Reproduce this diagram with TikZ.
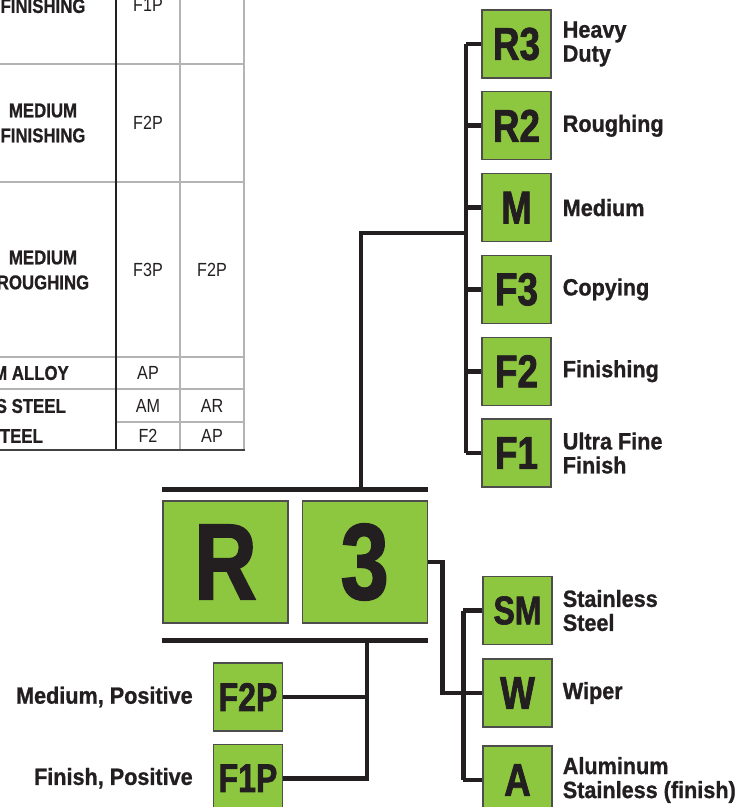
\documentclass[tikz,border=0pt]{standalone}
\usepackage{fontspec}
\setmainfont{Liberation Sans}
\newfontfamily\boxfont[FakeStretch=0.8, FakeBold=1.6]{Liberation Sans}
\newfontfamily\labfont[FakeStretch=0.92, FakeBold=1.0]{Liberation Sans}
\newfontfamily\cellfont[FakeStretch=0.85]{Liberation Sans}
\newfontfamily\headfont[FakeStretch=0.84, FakeBold=0.8]{Liberation Sans}
\usetikzlibrary{positioning}
\definecolor{codegreen}{HTML}{8DC63F}
\definecolor{ink}{HTML}{231F20}
\definecolor{rule}{HTML}{B4B4B4}

\begin{document}
\begin{tikzpicture}[x=1pt, y=-1pt,
    codebox/.style={draw=ink!80, line width=1.2pt, fill=codegreen, text=ink,
        minimum width=69pt, minimum height=68pt, inner sep=0pt,
        font=\boxfont\bfseries\fontsize{46}{46}\selectfont},
    smallcode/.style={font=\boxfont\bfseries\fontsize{40}{40}\selectfont},
    bigbox/.style={codebox, minimum width=125pt, minimum height=122pt,
        font=\boxfont\bfseries\fontsize{108}{108}\selectfont},
    tag/.style={text=ink, inner sep=0pt, align=left,
        font=\labfont\bfseries\fontsize{23.5}{24}\selectfont},
    wire/.style={ink, line width=4.8pt},
    bar/.style={ink, line width=5.5pt},
    cell/.style={text=ink, inner sep=0pt, font=\cellfont\fontsize{19}{22}\selectfont},
    head/.style={text=ink, inner sep=0pt, align=center,
        font=\headfont\bfseries\fontsize{20}{25}\selectfont},
    node distance=12.6pt]
    \useasboundingbox (0,0) rectangle (754,807);
    \clip (0,0) rectangle (754,807);
    % table (cut off on the left)
    \draw[rule, line width=1.5pt] (180,0) -- (180,450);
    \draw[rule, line width=1.5pt] (244,0) -- (244,450);
    \foreach \y in {64,182,357,389} {
        \draw[rule, line width=1.5pt] (0,\y) -- (244,\y);
    }
    \draw[rule, line width=1.5pt] (116,422) -- (244,422);
    \draw[ink, line width=1.2pt] (116,0) -- (116,450);
    \draw[ink!85, line width=1.5pt] (0,450) -- (244.75,450);
    \node[head] at (43,6) {FINISHING};
    \node[head] at (43,123) {MEDIUM\\FINISHING};
    \node[head] at (43,270) {MEDIUM\\ROUGHING};
    \node[head, anchor=east] at (69,373) {M ALLOY};
    \node[head, anchor=east] at (66,406) {S STEEL};
    \node[head, anchor=east] at (43,436) {STEEL};
    \node[cell] at (148,5) {F1P};
    \node[cell] at (148,123) {F2P};
    \node[cell] at (148,270) {F3P};
    \node[cell] at (212,270) {F2P};
    \node[cell] at (148,373) {AP};
    \node[cell] at (148,406) {AM};
    \node[cell] at (212,406) {AR};
    \node[cell] at (148,436) {F2};
    \node[cell] at (212,436) {AP};
    % main code
    \node[bigbox] (rr) at (225.5,562) {R};
    \node[bigbox, right=13pt of rr] (three) {3};
    \coordinate (topbar west) at ([yshift=11pt]rr.north west);
    \coordinate (topbar east) at ([yshift=11pt]three.north east);
    \coordinate (lowbar west) at ([yshift=-17pt]rr.south west);
    \coordinate (lowbar east) at ([yshift=-17pt]three.south east);
    \draw[bar] (topbar west) -- (topbar east);
    \draw[bar] (lowbar west) -- (lowbar east);
    % chip breaker column
    \node[codebox] (r3) at (516.5,44) {R3};
    \node[codebox, below=of r3] (r2) {R2};
    \node[codebox, below=of r2] (m) {M};
    \node[codebox, below=of m] (f3) {F3};
    \node[codebox, below=of f3] (f2) {F2};
    \node[codebox, below=of f2] (f1) {F1};
    \node[tag, right=11pt of r3] {Heavy\\Duty};
    \node[tag, right=11pt of r2] {Roughing};
    \node[tag, right=11pt of m] {Medium};
    \node[tag, right=11pt of f3] {Copying};
    \node[tag, right=11pt of f2] {Finishing};
    \node[tag, right=11pt of f1] {Ultra Fine\\Finish};
    \coordinate (spine top) at ([xshift=-15.5pt]r3.west);
    \coordinate (spine bottom) at ([xshift=-15.5pt]f1.west);
    \draw[wire] (spine top) -- (spine bottom);
    \foreach \n in {r3,r2,m,f3,f2,f1} {
        \draw[wire] (\n.west) -- (\n.west -| spine top);
    }
    \coordinate (trunk foot) at (361,490);
    \coordinate (trunk joint) at (466.5,233);
    \draw[wire] (trunk foot) |- (trunk joint);
    % positive geometry
    \node[codebox, smallcode] (f2p) at (248,697) {F2P};
    \node[codebox, smallcode, below=12pt of f2p] (f1p) {F1P};
    \node[tag, left=20pt of f2p] {Medium, Positive};
    \node[tag, left=20pt of f1p] {Finish, Positive};
    \coordinate (drop top) at (367,640);
    \draw[wire] (drop top) |- (f1p.east);
    \draw[wire] (f2p.east) -- (f2p.east -| drop top);
    % material
    \node[codebox, smallcode] (sm) at (517.5,610.5) {SM};
    \node[codebox] (w) at (517.5,693) {W};
    \node[codebox] (a) at (517.5,780) {A};
    \node[tag, right=10pt of sm] {Stainless\\Steel};
    \node[tag, right=10pt of w] {Wiper};
    \node[tag, right=10pt of a] {Aluminum\\Stainless (finish)};
    \coordinate (branch top) at ([xshift=-19pt]sm.west);
    \coordinate (branch bottom) at ([xshift=-19pt]a.west);
    \draw[wire] (branch top) -- (branch bottom);
    \foreach \n in {sm,w,a} {
        \draw[wire] (\n.west) -- (\n.west -| branch top);
    }
    \draw[wire] (three.east) -- ++(15,0) |- (w.west);
\end{tikzpicture}
\end{document}
